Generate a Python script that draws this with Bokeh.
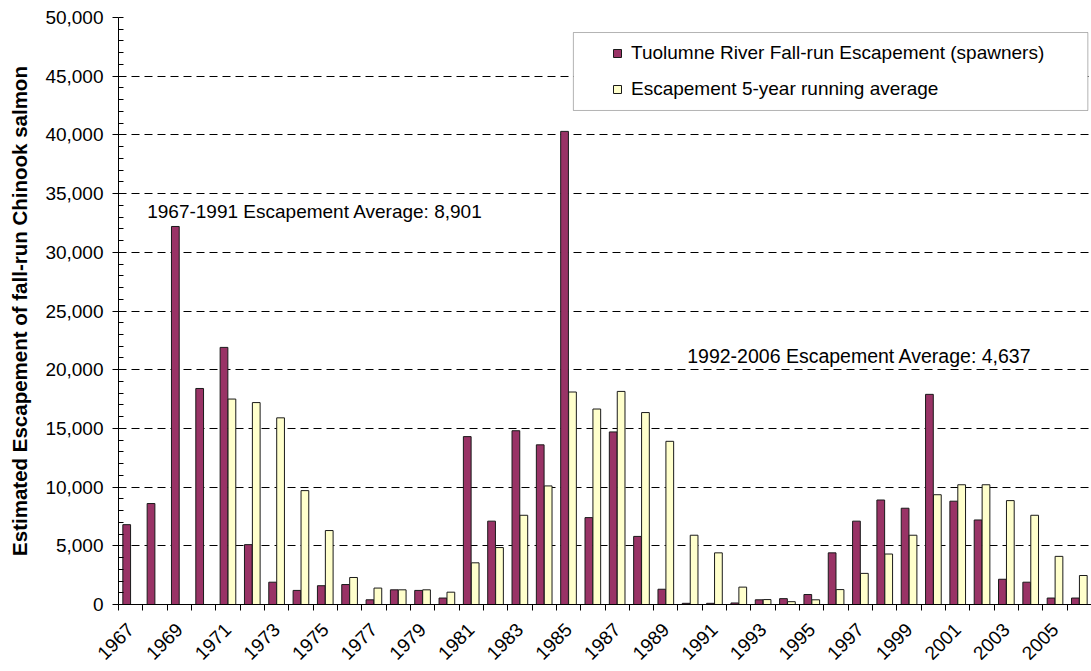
import math
import numpy as np
from bokeh.plotting import figure
from bokeh.models import (FixedTicker, NumeralTickFormatter, Legend, LegendItem,
                          Label, BoxAnnotation, Range1d, ColumnDataSource)
from bokeh.transform import dodge
from bokeh.embed import file_html
from bokeh.resources import INLINE

years = [1967, 1968, 1969, 1970, 1971, 1972, 1973, 1974, 1975, 1976,
         1977, 1978, 1979, 1980, 1981, 1982, 1983, 1984, 1985, 1986,
         1987, 1988, 1989, 1990, 1991, 1992, 1993, 1994, 1995, 1996,
         1997, 1998, 1999, 2000, 2001, 2002, 2003, 2004, 2005, 2006]

escapement = [6800, 8600, 32200, 18400, 21900, 5100, 1900, 1200, 1600, 1700,
              400, 1250, 1200, 550, 14300, 7100, 14800, 13600, 40300, 7400,
              14700, 5800, 1300, 100, 100, 130, 400, 500, 850, 4400,
              7100, 8900, 8200, 17900, 8800, 7200, 2150, 1900, 550, 550]

running_avg = [None, None, None, None, 17500, 17200, 15900, 9700, 6300, 2300,
               1400, 1250, 1250, 1050, 3550, 4850, 7600, 10100, 18100, 16650,
               18150, 16350, 13900, 5900, 4400, 1480, 420, 240, 400, 1270,
               2650, 4300, 5900, 9350, 10200, 10200, 8850, 7600, 4100, 2470]

label_escapement = "Tuolumne River Fall-run Escapement (spawners)"
label_avg = "Escapement 5-year running average"
note_early = "1967-1991 Escapement Average: 8,901"
note_late = "1992-2006 Escapement Average: 4,637"
y_title = "Estimated Escapement of fall-run Chinook salmon"

FONT = "Liberation Sans"
MAROON = "#993366"
CREAM = "#FFFFCC"

idx = list(range(len(years)))
src = ColumnDataSource(dict(
    x=idx,
    esc=escapement,
    avg=[np.nan if v is None else v for v in running_avg],
))

p = figure(width=1091, height=670, output_backend="svg", toolbar_location=None,
           x_range=Range1d(-0.5, len(years) - 0.5), y_range=Range1d(0, 50000),
           min_border_left=118, min_border_right=0, min_border_top=17,
           min_border_bottom=66)
p.outline_line_color = None
p.background_fill_color = "white"
p.border_fill_color = "white"

r1 = p.vbar(x=dodge("x", -0.163, range=p.x_range), top="esc", width=0.318,
            source=src, fill_color=MAROON, line_color="#1a1a1a", line_width=1)
r2 = p.vbar(x=dodge("x", 0.163, range=p.x_range), top="avg", width=0.318,
            source=src, fill_color=CREAM, line_color="#1a1a1a", line_width=1)

# y axis
p.yaxis.ticker = FixedTicker(ticks=list(range(0, 50001, 5000)),
                             minor_ticks=list(range(0, 50001, 1000)))
p.yaxis.formatter = NumeralTickFormatter(format="0,0")
p.yaxis.major_tick_out = 6
p.yaxis.major_tick_in = 0
p.yaxis.minor_tick_in = 5
p.yaxis.minor_tick_out = 0
p.yaxis.axis_line_color = "black"
p.yaxis.major_tick_line_color = "black"
p.yaxis.minor_tick_line_color = "black"
p.yaxis.major_label_text_font = FONT
p.yaxis.major_label_text_font_size = "19px"
p.yaxis.major_label_text_color = "black"
p.yaxis.major_label_standoff = 9
p.yaxis.axis_label = y_title
p.yaxis.axis_label_text_font = FONT
p.yaxis.axis_label_text_font_style = "bold"
p.yaxis.axis_label_text_font_size = "20.5px"
p.yaxis.axis_label_text_color = "black"
p.yaxis.axis_label_standoff = 11

# x axis
p.xaxis.ticker = FixedTicker(ticks=idx[::2],
                             minor_ticks=[i - 0.5 for i in range(len(years) + 1)])
p.xaxis.major_label_overrides = {i: str(y) for i, y in zip(idx, years)}
p.xaxis.major_tick_line_color = None
p.xaxis.major_tick_out = 6
p.xaxis.major_tick_in = 0
p.xaxis.minor_tick_line_color = "black"
p.xaxis.minor_tick_out = 6
p.xaxis.minor_tick_in = 0
p.xaxis.axis_line_color = "black"
p.xaxis.major_label_orientation = math.pi / 4
p.xaxis.major_label_text_font = FONT
p.xaxis.major_label_text_font_size = "19px"
p.xaxis.major_label_text_color = "black"
p.xaxis.major_label_standoff = 16

p.xgrid.grid_line_color = None
p.ygrid.grid_line_color = "black"
p.ygrid.grid_line_dash = "8 5"
p.ygrid.grid_line_width = 1

# legend frame + legend
frame_box = BoxAnnotation(left=18.2, right=39.35, top=48720, bottom=42080,
                          fill_color="white", fill_alpha=1.0,
                          line_color="black", line_width=1, level="annotation")
p.add_layout(frame_box)

legend = Legend(items=[LegendItem(label=label_escapement, renderers=[r1]),
                       LegendItem(label=label_avg, renderers=[r2])],
                location=(494, 504), orientation="vertical")
legend.border_line_color = None
legend.background_fill_alpha = 0
legend.padding = 10
legend.margin = 0
legend.spacing = 14
legend.glyph_width = 10
legend.glyph_height = 10
legend.label_height = 22
legend.label_standoff = 9
legend.label_text_font = FONT
legend.label_text_font_size = "19px"
legend.label_text_color = "black"
p.add_layout(legend)

p.add_layout(Label(x=0.68, y=33500, text=note_early, text_font=FONT,
                   text_font_size="19px", text_color="black",
                   text_baseline="alphabetic"))
p.add_layout(Label(x=22.88, y=21150, text=note_late, text_font=FONT,
                   text_font_size="19.5px", text_color="black",
                   text_baseline="alphabetic"))

open("out.html", "w").write(file_html(p, INLINE))
